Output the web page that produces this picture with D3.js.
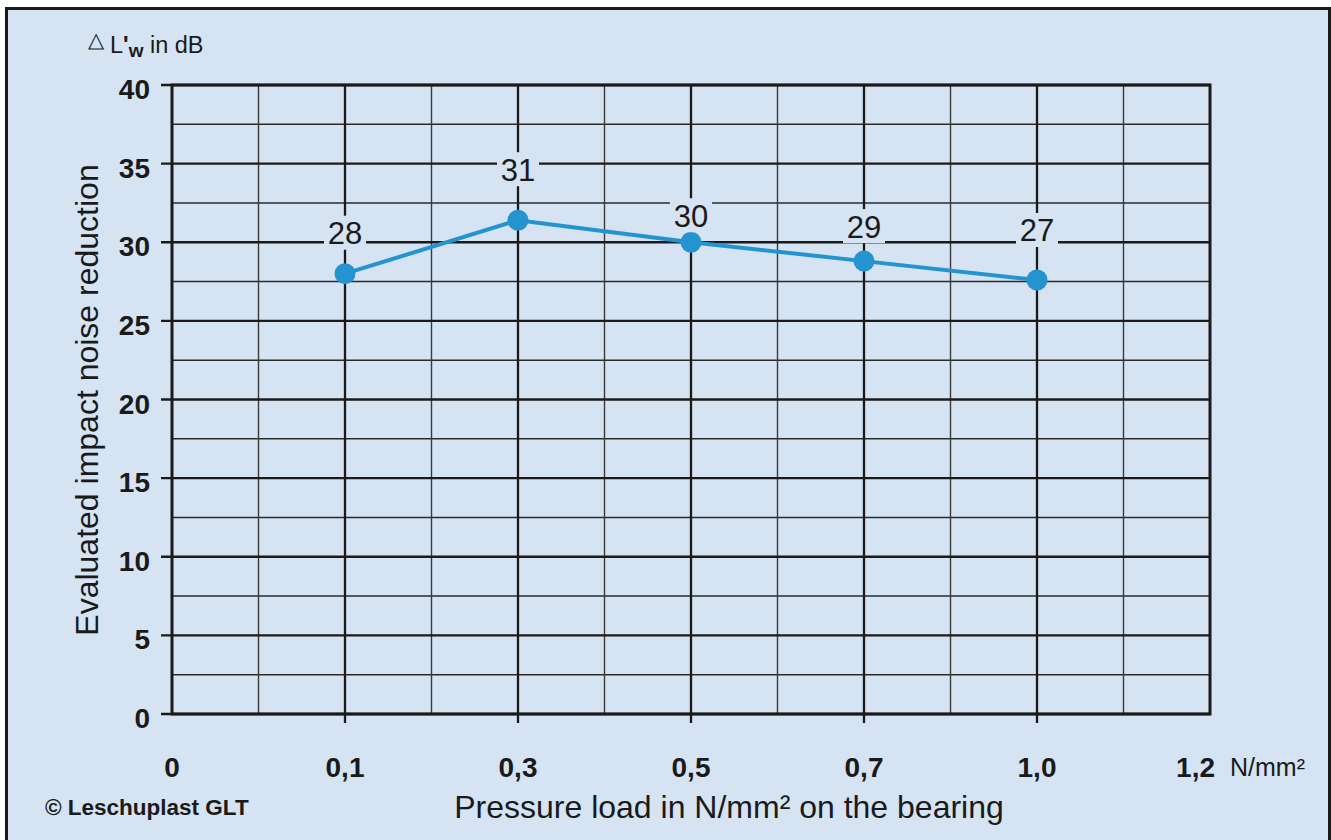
<!DOCTYPE html>
<html><head><meta charset="utf-8">
<script src="https://cdn.jsdelivr.net/npm/d3@7"></script>
<style>
html,body{margin:0;padding:0;background:#fff;}
svg{display:block;font-family:"Liberation Sans",Arial,sans-serif;}
</style></head>
<body>
<svg id="chart" width="1331" height="840"></svg>
<script>
// Data
const categories = ["0", "0,1", "0,3", "0,5", "0,7", "1,0", "1,2"];
const pointCategories = ["0,1", "0,3", "0,5", "0,7", "1,0"];
const values = [28.0, 31.4, 30.0, 28.8, 27.6];
const valueLabels = ["28", "31", "30", "29", "27"];
const yTicks = [0, 5, 10, 15, 20, 25, 30, 35, 40];
const yMinorTicks = [2.5, 7.5, 12.5, 17.5, 22.5, 27.5, 32.5, 37.5];

const svg = d3.select("#chart");
const pL = 172, pR = 1210, pT = 85, pB = 714;
const BG = "#d5e3f3", INK = "#1a1a1a";

// background panel
svg.append("rect").attr("x", 6.5).attr("y", 8.5).attr("width", 1323).attr("height", 840)
  .attr("fill", BG).attr("stroke", INK).attr("stroke-width", 3);

const x = d3.scalePoint().domain(categories).range([pL, pR]);
const y = d3.scaleLinear().domain([0, 40]).range([pB, pT]);
const step = x.step();

const g = svg.append("g");

// minor horizontal grid
g.selectAll("line.hmin").data(yMinorTicks).join("line")
  .attr("x1", pL).attr("x2", pR).attr("y1", d => y(d)).attr("y2", d => y(d))
  .attr("stroke", "#2a2a2a").attr("stroke-width", 1.4);
// minor vertical grid
const midX = categories.slice(0, -1).map(c => x(c) + step / 2);
g.selectAll("line.vmin").data(midX).join("line")
  .attr("x1", d => d).attr("x2", d => d).attr("y1", pT).attr("y2", pB)
  .attr("stroke", "#3a3a3a").attr("stroke-width", 1.4);
// major horizontal grid + ticks
g.selectAll("line.hmaj").data(yTicks).join("line")
  .attr("x1", pL - 11).attr("x2", pR).attr("y1", d => y(d)).attr("y2", d => y(d))
  .attr("stroke", INK).attr("stroke-width", 2.3);
// major vertical grid + ticks
g.selectAll("line.vmaj").data(categories.slice(1, -1)).join("line")
  .attr("x1", d => x(d)).attr("x2", d => x(d)).attr("y1", pT).attr("y2", pB + 9)
  .attr("stroke", INK).attr("stroke-width", 2.3);
// plot frame
g.append("rect").attr("x", pL).attr("y", pT).attr("width", pR - pL).attr("height", pB - pT)
  .attr("fill", "none").attr("stroke", INK).attr("stroke-width", 3);

// y tick labels
g.selectAll("text.yl").data(yTicks).join("text")
  .attr("x", 150).attr("y", d => y(d) + 14)
  .attr("text-anchor", "end").attr("font-size", 28).attr("font-weight", "bold").attr("fill", INK)
  .text(d => d);
// x tick labels (last one right-aligned beside the unit)
g.selectAll("text.xl").data(categories).join("text")
  .attr("x", (d, i) => i === categories.length - 1 ? x(d) + 5 : x(d)).attr("y", 777)
  .attr("text-anchor", (d, i) => i === categories.length - 1 ? "end" : "middle")
  .attr("font-size", 28).attr("font-weight", "bold").attr("fill", INK)
  .text(d => d);

svg.append("text").attr("x", 1230).attr("y", 776).attr("font-size", 25).attr("fill", INK).text("N/mm²");

// axis titles
svg.append("text").attr("transform", "translate(98,400) rotate(-90)").attr("text-anchor", "middle")
  .attr("font-size", 32).attr("fill", INK).text("Evaluated impact noise reduction");
svg.append("text").attr("x", 729).attr("y", 818).attr("text-anchor", "middle")
  .attr("font-size", 32).attr("fill", INK).text("Pressure load in N/mm² on the bearing");
svg.append("text").attr("x", 45).attr("y", 815).attr("font-size", 22.5).attr("font-weight", "bold")
  .attr("fill", INK).text("© Leschuplast GLT");

// top-left unit label
const ul = svg.append("text").attr("x", 88).attr("y", 53).attr("font-size", 23.5).attr("fill", INK);
ul.append("tspan").attr("font-size", 21).attr("dy", -6).text("△");
ul.append("tspan").attr("dx", 6).attr("dy", 6).text("L");
ul.append("tspan").attr("font-weight", "bold").text("'");
ul.append("tspan").attr("font-weight", "bold").attr("font-size", 19).attr("dy", 4).text("w");
ul.append("tspan").attr("dy", -4).text(" in dB");

// line + points
const pts = pointCategories.map((c, i) => ({c, v: values[i], lab: valueLabels[i], i}));
svg.append("path").datum(pts)
  .attr("d", d3.line().x(d => x(d.c)).y(d => y(d.v)))
  .attr("fill", "none").attr("stroke", "#2394d0").attr("stroke-width", 4);
svg.selectAll("circle.pt").data(pts).join("circle")
  .attr("cx", d => x(d.c)).attr("cy", d => y(d.v)).attr("r", 10.5).attr("fill", "#2394d0");

// value labels with masking boxes (pixel offsets above each point)
const labelLift = [41, 51, 27, 35, 50];
const lg = svg.selectAll("g.lab").data(pts).join("g")
  .attr("transform", d => `translate(${x(d.c)},${y(d.v) - labelLift[d.i]})`);
lg.append("rect").attr("x", -21).attr("y", -17).attr("width", 42).attr("height", 34).attr("fill", BG);
lg.append("text").attr("text-anchor", "middle").attr("y", 11.5).attr("font-size", 31)
  .attr("fill", INK).text(d => d.lab);
</script>
</body></html>
